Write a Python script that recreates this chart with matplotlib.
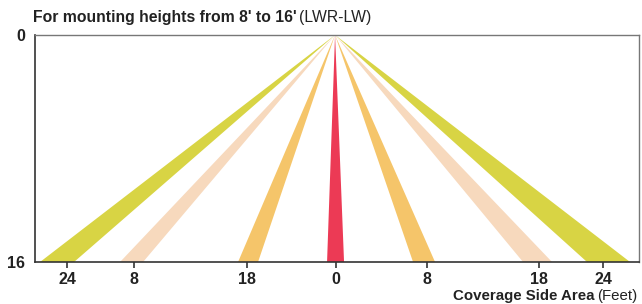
import matplotlib
matplotlib.use("Agg")
import matplotlib.pyplot as plt
from matplotlib.patches import Polygon

plt.rcParams['font.family'] = ['Liberation Sans', 'DejaVu Sans']

# beam edges at the floor (offset from the fixture, drawing units)
beam_left = [-295, -215, -97, -8, 78, 188, 252]
beam_right = [-261, -192, -77, 9, 100, 217, 295]
beam_colors = ['#d8d444', '#f7d9bd', '#f5c56a', '#ec3a55',
               '#f5c56a', '#f7d9bd', '#d8d444']

tick_pos = [-268, -201, -88, 1, 92, 204, 268]
tick_labels = ['24', '8', '18', '0', '8', '18', '24']
y_ticks = [0, 16]
y_labels = ['0', '16']

fig = plt.figure(figsize=(6.42, 3.04), dpi=100)
ax = fig.add_axes([0.0545, 0.138, 0.941, 0.747])

apex = 0
for l, r, c in zip(beam_left, beam_right, beam_colors):
    ax.add_patch(Polygon([(apex, 0), (l, 16), (r, 16)], closed=True,
                         facecolor=c, edgecolor='none'))

ax.set_xlim(-300, 304)
ax.set_ylim(16, 0)
ax.set_xticks(tick_pos)
ax.set_xticklabels(tick_labels, fontsize=11.5, fontweight='bold', color='#222222')
ax.set_yticks(y_ticks)
ax.set_yticklabels(y_labels, fontsize=11.5, fontweight='bold', color='#222222')
ax.tick_params(axis='x', length=4, width=1.2, color='#333333', pad=3.5)
ax.tick_params(axis='y', length=0, pad=7)

for side in ['left', 'bottom']:
    ax.spines[side].set_color('#333333')
    ax.spines[side].set_linewidth(1.2)
for side in ['top', 'right']:
    ax.spines[side].set_color('#777777')
    ax.spines[side].set_linewidth(1.0)

# title in two weights
t1 = fig.text(33 / 642, 1 - 22 / 304, "For mounting heights from 8' to 16'",
              fontsize=11.3, fontweight='bold', color='#222222', va='baseline')
fig.canvas.draw()
bb = t1.get_window_extent()
fig.text(bb.x1 / fig.bbox.width + 0.004, 1 - 22 / 304, "(LWR-LW)",
         fontsize=11.3, color='#222222', va='baseline')

# axis caption in two weights, right aligned
t2 = fig.text(637 / 642, 1 - 300 / 304, "(Feet)", fontsize=10.8,
              color='#222222', ha='right', va='baseline')
fig.canvas.draw()
bb2 = t2.get_window_extent()
fig.text(bb2.x0 / fig.bbox.width - 0.004, 1 - 300 / 304, "Coverage Side Area",
         fontsize=10.8, fontweight='bold', color='#222222', ha='right', va='baseline')

fig.savefig('out.png', dpi=100)
